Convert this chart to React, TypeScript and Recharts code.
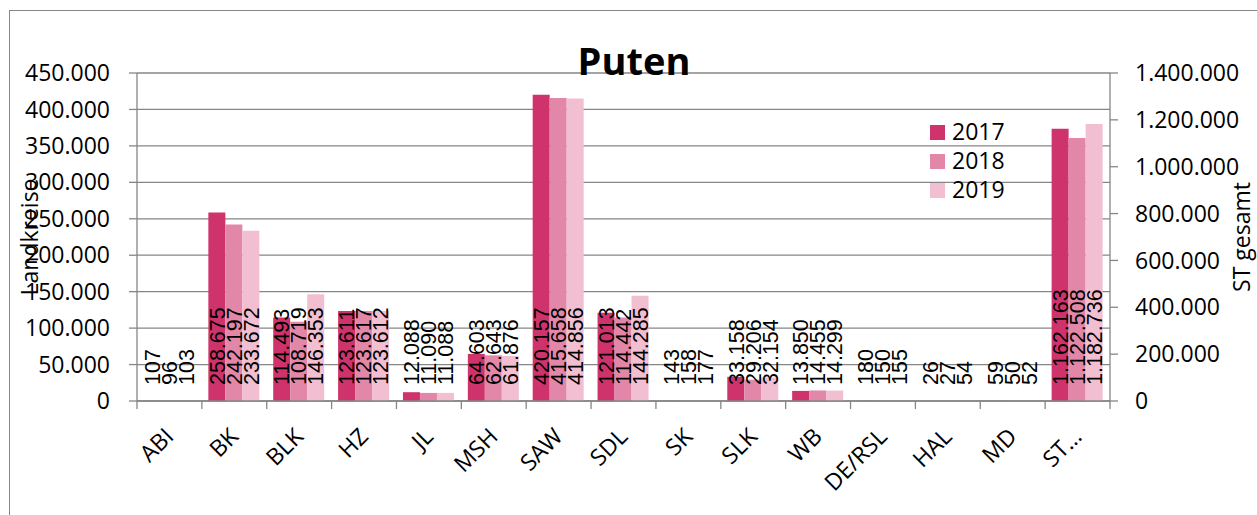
import React from 'react';
import { BarChart, Bar, XAxis, YAxis, CartesianGrid, LabelList, Legend } from 'recharts';

const categories = ['ABI', 'BK', 'BLK', 'HZ', 'JL', 'MSH', 'SAW', 'SDL', 'SK', 'SLK', 'WB', 'DE/RSL', 'HAL', 'MD', 'ST…'];
// last category (ST gesamt) is drawn against the right axis
const rightAxisCategory = 'ST…';
const values2017 = [107, 258675, 114493, 123611, 12088, 64603, 420157, 121013, 143, 33158, 13850, 180, 26, 59, 1162163];
const values2018 = [96, 242197, 108719, 123617, 11090, 62643, 415658, 114442, 158, 29206, 14455, 150, 27, 50, 1122508];
const values2019 = [103, 233672, 146353, 123612, 11088, 61876, 414856, 144285, 177, 32154, 14299, 155, 54, 52, 1182736];
const leftTicks = [0, 50000, 100000, 150000, 200000, 250000, 300000, 350000, 400000, 450000];
const rightTicks = [0, 200000, 400000, 600000, 800000, 1000000, 1200000, 1400000];

const series = [
  { year: '2017', values: values2017, color: '#CF336B' },
  { year: '2018', values: values2018, color: '#E287A8' },
  { year: '2019', values: values2019, color: '#F1BFD1' },
];

const data = categories.map((cat, i) => {
  const row: any = { cat };
  series.forEach((s) => {
    if (cat === rightAxisCategory) row['r' + s.year] = s.values[i];
    else row['l' + s.year] = s.values[i];
  });
  return row;
});

const AXIS = '#868686';
const FONT = "'Open Sans', sans-serif";

const fmt = (v: number) => String(Math.round(v)).replace(/\B(?=(\d{3})+(?!\d))/g, '.');

const renderLabel = (props: any) => {
  const vb = props.viewBox || props;
  const { value } = props;
  if (value === null || value === undefined || value === 0) return null;
  const x = Number(vb.x);
  const y = Number(vb.y);
  const w = Number(vb.width);
  const h = Number(vb.height);
  const cx = x + w / 2;
  const base = Math.max(y, y + h);
  const ty = base - 16;
  return (
    <text
      x={cx}
      y={ty}
      dy="0.36em"
      transform={`rotate(-90, ${cx}, ${ty})`}
      textAnchor="start"
      fontFamily="'Liberation Sans', Arial, sans-serif"
      fontSize={21.5}
      fill="#000"
    >
      {fmt(value)}
    </text>
  );
};

const XTick = (props: any) => {
  const { x, y, payload, index, width, visibleTicksCount } = props;
  const half = payload && payload.offset ? payload.offset : width / (visibleTicksCount || categories.length) / 2;
  const ax = x + 5.5;
  const ay = y + 37;
  return (
    <g>
      <line x1={x - half} x2={x - half} y1={y} y2={y + 8} stroke={AXIS} strokeWidth={1.3} />
      {index === categories.length - 1 && (
        <line x1={x + half} x2={x + half} y1={y} y2={y + 8} stroke={AXIS} strokeWidth={1.3} />
      )}
      <text
        x={ax}
        y={ay}
        transform={`rotate(-45, ${ax}, ${ay})`}
        textAnchor="end"
        fontFamily={FONT}
        fontSize={23}
        fill="#000"
      >
        {payload.value}
      </text>
    </g>
  );
};

const renderLegend = (props: any) => {
  const items = (props.payload || []).filter((p: any) => p.type !== 'none');
  return (
    <svg width={110} height={95} style={{ overflow: 'visible' }}>
      {items.map((p: any, i: number) => (
        <g key={p.value}>
          <rect x={0} y={i * 29} width={15} height={15} fill={p.color} />
          <text x={22} y={i * 29 + 15} fontFamily={FONT} fontSize={23} fill="#000">
            {p.value}
          </text>
        </g>
      ))}
    </svg>
  );
};

export default function App() {
  return (
    <div style={{ position: 'absolute', left: 0, top: 0, width: 1257, height: 515, overflow: 'hidden', background: '#fff' }}>
      <div
        style={{
          position: 'absolute',
          left: 9,
          top: 10,
          width: 1400,
          height: 700,
          border: `1px solid ${AXIS}`,
          boxSizing: 'border-box',
        }}
      />
      <div style={{ position: 'absolute', left: 0, top: 0 }}>
        <BarChart
          width={1257}
          height={515}
          data={data}
          margin={{ top: 73, right: 0, bottom: 0, left: 0 }}
          barCategoryGap="10%"
          barGap={0}
        >
          <CartesianGrid yAxisId="left" vertical={false} stroke={AXIS} strokeWidth={1.3} />
          <XAxis
            dataKey="cat"
            interval={0}
            height={114}
            tickLine={false}
            tickSize={0}
            tickMargin={0}
            axisLine={{ stroke: AXIS, strokeWidth: 1.3 }}
            tick={<XTick />}
          />
          <YAxis
            yAxisId="left"
            orientation="left"
            width={137}
            domain={[0, 450000]}
            ticks={leftTicks}
            interval={0}
            tickFormatter={fmt}
            tickSize={8}
            tickMargin={19}
            axisLine={{ stroke: AXIS, strokeWidth: 1.3 }}
            tickLine={{ stroke: AXIS, strokeWidth: 1.3 }}
            tick={{ fontFamily: FONT, fontSize: 23, fill: '#000' }}
          />
          <YAxis
            yAxisId="right"
            orientation="right"
            width={147}
            domain={[0, 1400000]}
            ticks={rightTicks}
            interval={0}
            tickFormatter={fmt}
            tickSize={8}
            tickMargin={17}
            axisLine={{ stroke: AXIS, strokeWidth: 1.3 }}
            tickLine={{ stroke: AXIS, strokeWidth: 1.3 }}
            tick={{ fontFamily: FONT, fontSize: 23, fill: '#000', textAnchor: 'start' }}
          />
          <Legend
            layout="vertical"
            align="center"
            verticalAlign="middle"
            wrapperStyle={{ left: 930, top: 125, width: 110 }}
            content={renderLegend}
          />
          {series.flatMap((s) => [
            <Bar
              key={'l' + s.year}
              dataKey={'l' + s.year}
              name={s.year}
              yAxisId="left"
              stackId={'s' + s.year}
              fill={s.color}
              isAnimationActive={false}
            >
              <LabelList dataKey={'l' + s.year} content={renderLabel} />
            </Bar>,
            <Bar
              key={'r' + s.year}
              dataKey={'r' + s.year}
              name={s.year + ' ST'}
              yAxisId="right"
              stackId={'s' + s.year}
              fill={s.color}
              legendType="none"
              isAnimationActive={false}
            >
              <LabelList dataKey={'r' + s.year} content={renderLabel} />
            </Bar>,
          ])}
        </BarChart>
      </div>
      <svg
        width={1257}
        height={515}
        style={{ position: 'absolute', left: 0, top: 0, pointerEvents: 'none' }}
      >
        <text x={634} y={75} textAnchor="middle" fontFamily={FONT} fontWeight="bold" fontSize={38} fill="#000">
          Puten
        </text>
        <text
          x={29}
          y={237}
          transform="rotate(-90, 29, 237)"
          textAnchor="middle"
          dominantBaseline="central"
          fontFamily={FONT}
          fontSize={23}
          fill="#000"
        >
          Landkreise
        </text>
        <text
          x={1241}
          y={237}
          transform="rotate(-90, 1241, 237)"
          textAnchor="middle"
          dominantBaseline="central"
          fontFamily={FONT}
          fontSize={23}
          fill="#000"
        >
          ST gesamt
        </text>
      </svg>
    </div>
  );
}
